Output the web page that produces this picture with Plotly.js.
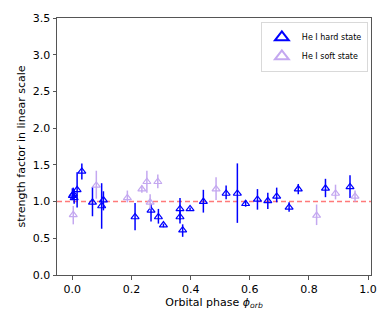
<!DOCTYPE html>
<html>
<head>
<meta charset="utf-8">
<script src="https://cdn.plot.ly/plotly-3.0.1.min.js"></script>
<style>html,body{margin:0;padding:0;background:#fff;}#chart{width:382px;height:313px;}</style>
</head>
<body>
<div id="chart"></div>
<script>
// He I hard state
const hardPhase = [0.000, 0.003, 0.006, 0.016, 0.032, 0.068, 0.099, 0.105, 0.212, 0.266, 0.291, 0.308, 0.364, 0.364, 0.373, 0.398, 0.443, 0.520, 0.558, 0.586, 0.626, 0.661, 0.691, 0.733, 0.764, 0.856, 0.939];
const hardValue = [1.08, 1.10, 1.05, 1.16, 1.41, 0.99, 0.94, 1.02, 0.79, 0.88, 0.79, 0.68, 0.90, 0.79, 0.61, 0.90, 1.00, 1.11, 1.11, 0.97, 1.03, 1.01, 1.07, 0.92, 1.17, 1.18, 1.20];
const hardErrUp = [0.10, 0.09, 0.12, 0.24, 0.11, 0.21, 0.31, 0.12, 0.19, 0.09, 0.11, 0.02, 0.15, 0.08, 0.08, 0.02, 0.16, 0.11, 0.41, 0.05, 0.14, 0.11, 0.12, 0.07, 0.07, 0.13, 0.16];
const hardErrDn = [0.06, 0.07, 0.08, 0.24, 0.11, 0.19, 0.31, 0.14, 0.18, 0.15, 0.09, 0.03, 0.15, 0.09, 0.09, 0.02, 0.15, 0.08, 0.40, 0.04, 0.14, 0.11, 0.08, 0.06, 0.07, 0.12, 0.15];
// He I soft state
const softPhase = [0.003, 0.081, 0.186, 0.235, 0.252, 0.263, 0.289, 0.486, 0.826, 0.890, 0.956];
const softValue = [0.82, 1.22, 1.05, 1.17, 1.27, 0.99, 1.27, 1.17, 0.81, 1.11, 1.07];
const softErrUp = [0.12, 0.20, 0.10, 0.05, 0.15, 0.11, 0.10, 0.16, 0.15, 0.12, 0.08];
const softErrDn = [0.13, 0.18, 0.06, 0.05, 0.15, 0.09, 0.09, 0.15, 0.13, 0.08, 0.07];
const refLevel = 1.0;
const xTicks = [0.0, 0.2, 0.4, 0.6, 0.8, 1.0];
const yTicks = [0.0, 0.5, 1.0, 1.5, 2.0, 2.5, 3.0, 3.5];

const blue = '#0000ff';
const soft = '#c4a8f0';

const traces = [
  {
    x: hardPhase, y: hardValue, type: 'scatter', mode: 'markers', name: 'He I hard state',
    marker: {symbol: 'triangle-up-open', size: 7, color: blue, line: {width: 1.2, color: blue}},
    error_y: {type: 'data', symmetric: false, array: hardErrUp, arrayminus: hardErrDn, color: blue, thickness: 1.5, width: 0}
  },
  {
    x: softPhase, y: softValue, type: 'scatter', mode: 'markers', name: 'He I soft state',
    marker: {symbol: 'triangle-up-open', size: 7, color: soft, line: {width: 1.2, color: soft}},
    error_y: {type: 'data', symmetric: false, array: softErrUp, arrayminus: softErrDn, color: soft, thickness: 1.5, width: 0}
  }
];

const layout = {
  width: 382, height: 313,
  margin: {l: 57, r: 11, t: 18, b: 38},
  paper_bgcolor: '#fff', plot_bgcolor: '#fff',
  font: {family: 'DejaVu Sans', size: 11, color: '#000'},
  showlegend: true,
  legend: {
    x: 0.99, xanchor: 'right', y: 0.985, yanchor: 'top',
    bordercolor: '#d9d9d9', borderwidth: 1, bgcolor: 'rgba(255,255,255,0.8)',
    font: {size: 8}, itemsizing: 'constant', tracegroupgap: 0
  },
  xaxis: {
    range: [-0.052, 1.01], tickvals: xTicks, ticktext: xTicks.map(v => v.toFixed(1)),
    showgrid: false, zeroline: false, showline: true, mirror: true, linecolor: '#555', linewidth: 1,
    ticks: 'outside', ticklen: 3.5, tickcolor: '#555', tickfont: {size: 11},
    title: {text: 'Orbital phase <i>ϕ</i><sub><i>orb</i></sub>', font: {size: 11}, standoff: 2}
  },
  yaxis: {
    range: [0, 3.5], tickvals: yTicks, ticktext: yTicks.map(v => v.toFixed(1)),
    showgrid: false, zeroline: false, showline: true, mirror: true, linecolor: '#555', linewidth: 1,
    ticks: 'outside', ticklen: 3.5, tickcolor: '#555', tickfont: {size: 11},
    title: {text: 'strength factor in linear scale', font: {size: 11}, standoff: 4}
  },
  shapes: [{
    type: 'line', xref: 'paper', x0: 0, x1: 1, yref: 'y', y0: refLevel, y1: refLevel,
    line: {color: '#ff7a7a', width: 1.4, dash: '5px,3px'}, layer: 'below'
  }]
};

Plotly.newPlot('chart', traces, layout, {displayModeBar: false, staticPlot: true});
</script>
</body>
</html>
